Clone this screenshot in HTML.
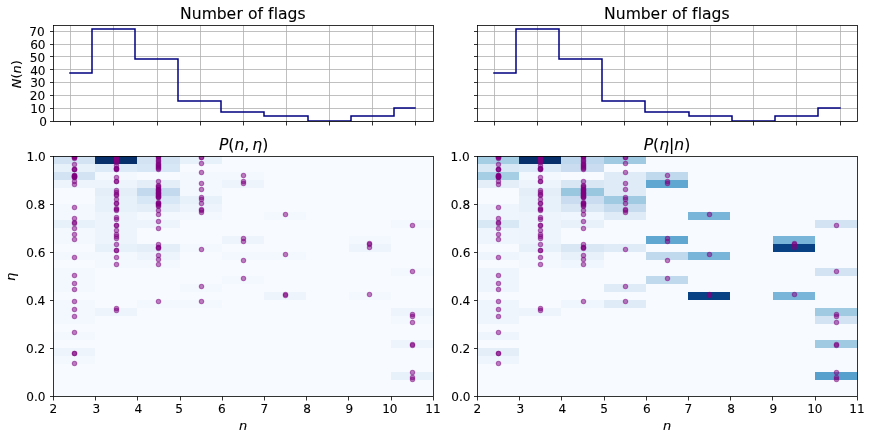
<!DOCTYPE html>
<html lang="en"><head><meta charset="utf-8"><title>Number of flags</title>
<style>html,body{margin:0;padding:0;background:#fff;}svg{display:block;will-change:transform;}</style>
</head><body>
<svg width="872" height="440" viewBox="0 0 872 440" font-family='"DejaVu Sans", "Liberation Sans", sans-serif' fill="#000">
<rect width="872" height="440" fill="#fff"/>
<defs>
<clipPath id="cb0"><rect x="53" y="156" width="380" height="240"/></clipPath>
<clipPath id="ct0"><rect x="53" y="25" width="380" height="96"/></clipPath>
<clipPath id="cb1"><rect x="477" y="156" width="380" height="240"/></clipPath>
<clipPath id="ct1"><rect x="477" y="25" width="380" height="96"/></clipPath>
</defs>
<g id="top0">
<path d="M70.5 25.5V121.5M113.5 25.5V121.5M157.5 25.5V121.5M200.5 25.5V121.5M243.5 25.5V121.5M286.5 25.5V121.5M329.5 25.5V121.5M372.5 25.5V121.5M415.5 25.5V121.5M53.5 121.5H433.5M53.5 108.5H433.5M53.5 95.5H433.5M53.5 82.5H433.5M53.5 69.5H433.5M53.5 56.5H433.5M53.5 44.5H433.5M53.5 31.5H433.5" stroke="#b0b0b0" stroke-width="0.8" fill="none"/>
<path d="M70 73H92V29H135V59H178V101H221V112H264V116H308V121H351V116H394V108H415" stroke="#000080" stroke-width="1.5" fill="none" stroke-linejoin="miter" stroke-linecap="square" clip-path="url(#ct0)"/>
<path d="M70.5 121.5V125.5M113.5 121.5V125.5M157.5 121.5V125.5M200.5 121.5V125.5M243.5 121.5V125.5M286.5 121.5V125.5M329.5 121.5V125.5M372.5 121.5V125.5M415.5 121.5V125.5M53.5 121.5H50M53.5 108.5H50M53.5 95.5H50M53.5 82.5H50M53.5 69.5H50M53.5 56.5H50M53.5 44.5H50M53.5 31.5H50" stroke="#000" stroke-width="0.8" fill="none"/>
<rect x="53.5" y="25.5" width="380" height="96" fill="none" stroke="#000" stroke-width="0.8"/>
<text x="179.91 191.72 201.65 216.76 226.62 236.38 242.95 247.91 257.55 263.04 268 273.72 277.95 287.46 297.4" y="19" font-size="15.6" stroke="#000" stroke-width="0.1">Number of flags</text>
<text x="46.94" y="126" font-size="12.1" text-anchor="end" stroke="#000" stroke-width="0.1">0</text>
<text x="45.6" y="113" font-size="12.1" text-anchor="end" stroke="#000" stroke-width="0.1">10</text>
<text x="45.21" y="100" font-size="12.1" text-anchor="end" stroke="#000" stroke-width="0.1">20</text>
<text x="45.56" y="87" font-size="12.1" text-anchor="end" stroke="#000" stroke-width="0.1">30</text>
<text x="45.54" y="75" font-size="12.1" text-anchor="end" stroke="#000" stroke-width="0.1">40</text>
<text x="45.09" y="62" font-size="12.1" text-anchor="end" stroke="#000" stroke-width="0.1">50</text>
<text x="45.57" y="49" font-size="12.1" text-anchor="end" stroke="#000" stroke-width="0.1">60</text>
<text x="44.62" y="36" font-size="12.1" text-anchor="end" stroke="#000" stroke-width="0.1">70</text>
<text transform="translate(21 74.16) rotate(-90)" font-size="13" text-anchor="middle" stroke="#000" stroke-width="0.1"><tspan font-style="italic">N</tspan>(<tspan font-style="italic">n</tspan>)</text>
</g>
<g id="bot0">
<rect x="53" y="156" width="381" height="241" fill="#f7fbff"/>
<g shape-rendering="crispEdges">
<rect x="53" y="156" width="42" height="8" fill="#d3e3f3"/>
<rect x="53" y="164" width="42" height="8" fill="#e7f1fa"/>
<rect x="53" y="172" width="42" height="8" fill="#d3e3f3"/>
<rect x="53" y="180" width="42" height="8" fill="#edf4fc"/>
<rect x="53" y="204" width="42" height="8" fill="#f2f8fd"/>
<rect x="53" y="212" width="42" height="8" fill="#f2f8fd"/>
<rect x="53" y="220" width="42" height="8" fill="#e7f1fa"/>
<rect x="53" y="228" width="42" height="8" fill="#f2f8fd"/>
<rect x="53" y="236" width="42" height="8" fill="#f2f8fd"/>
<rect x="53" y="252" width="42" height="8" fill="#f2f8fd"/>
<rect x="53" y="268" width="42" height="8" fill="#f2f8fd"/>
<rect x="53" y="276" width="42" height="8" fill="#f2f8fd"/>
<rect x="53" y="284" width="42" height="8" fill="#f2f8fd"/>
<rect x="53" y="300" width="42" height="8" fill="#f2f8fd"/>
<rect x="53" y="308" width="42" height="8" fill="#f2f8fd"/>
<rect x="53" y="316" width="42" height="8" fill="#f2f8fd"/>
<rect x="53" y="332" width="42" height="8" fill="#f2f8fd"/>
<rect x="53" y="348" width="42" height="8" fill="#edf4fc"/>
<rect x="53" y="356" width="42" height="8" fill="#f2f8fd"/>
<rect x="95" y="156" width="42" height="8" fill="#08306b"/>
<rect x="95" y="164" width="42" height="8" fill="#ddeaf7"/>
<rect x="95" y="172" width="42" height="8" fill="#f2f8fd"/>
<rect x="95" y="180" width="42" height="8" fill="#edf4fc"/>
<rect x="95" y="188" width="42" height="8" fill="#e3eef8"/>
<rect x="95" y="196" width="42" height="8" fill="#e7f1fa"/>
<rect x="95" y="204" width="42" height="8" fill="#e7f1fa"/>
<rect x="95" y="212" width="42" height="8" fill="#edf4fc"/>
<rect x="95" y="220" width="42" height="8" fill="#edf4fc"/>
<rect x="95" y="228" width="42" height="8" fill="#edf4fc"/>
<rect x="95" y="236" width="42" height="8" fill="#edf4fc"/>
<rect x="95" y="244" width="42" height="8" fill="#e7f1fa"/>
<rect x="95" y="252" width="42" height="8" fill="#f2f8fd"/>
<rect x="95" y="260" width="42" height="8" fill="#f2f8fd"/>
<rect x="95" y="308" width="42" height="8" fill="#edf4fc"/>
<rect x="137" y="156" width="43" height="8" fill="#d3e3f3"/>
<rect x="137" y="164" width="43" height="8" fill="#d8e7f5"/>
<rect x="137" y="180" width="43" height="8" fill="#e3eef8"/>
<rect x="137" y="188" width="43" height="8" fill="#c2d9ee"/>
<rect x="137" y="196" width="43" height="8" fill="#d8e7f5"/>
<rect x="137" y="204" width="43" height="8" fill="#e3eef8"/>
<rect x="137" y="212" width="43" height="8" fill="#f2f8fd"/>
<rect x="137" y="220" width="43" height="8" fill="#edf4fc"/>
<rect x="137" y="244" width="43" height="8" fill="#e3eef8"/>
<rect x="137" y="252" width="43" height="8" fill="#edf4fc"/>
<rect x="137" y="260" width="43" height="8" fill="#f2f8fd"/>
<rect x="137" y="300" width="43" height="8" fill="#f2f8fd"/>
<rect x="180" y="156" width="42" height="8" fill="#e7f1fa"/>
<rect x="180" y="172" width="42" height="8" fill="#f2f8fd"/>
<rect x="180" y="180" width="42" height="8" fill="#f2f8fd"/>
<rect x="180" y="188" width="42" height="8" fill="#f2f8fd"/>
<rect x="180" y="196" width="42" height="8" fill="#e7f1fa"/>
<rect x="180" y="204" width="42" height="8" fill="#edf4fc"/>
<rect x="180" y="212" width="42" height="8" fill="#f2f8fd"/>
<rect x="180" y="244" width="42" height="8" fill="#f2f8fd"/>
<rect x="180" y="284" width="42" height="8" fill="#f2f8fd"/>
<rect x="180" y="300" width="42" height="8" fill="#f2f8fd"/>
<rect x="222" y="172" width="42" height="8" fill="#f2f8fd"/>
<rect x="222" y="180" width="42" height="8" fill="#edf4fc"/>
<rect x="222" y="236" width="42" height="8" fill="#edf4fc"/>
<rect x="222" y="252" width="42" height="8" fill="#f2f8fd"/>
<rect x="222" y="276" width="42" height="8" fill="#f2f8fd"/>
<rect x="264" y="212" width="42" height="8" fill="#f2f8fd"/>
<rect x="264" y="252" width="42" height="8" fill="#f2f8fd"/>
<rect x="264" y="292" width="42" height="8" fill="#edf4fc"/>
<rect x="349" y="236" width="42" height="8" fill="#f2f8fd"/>
<rect x="349" y="244" width="42" height="8" fill="#edf4fc"/>
<rect x="349" y="292" width="42" height="8" fill="#f2f8fd"/>
<rect x="391" y="220" width="42" height="8" fill="#f2f8fd"/>
<rect x="391" y="268" width="42" height="8" fill="#f2f8fd"/>
<rect x="391" y="308" width="42" height="8" fill="#edf4fc"/>
<rect x="391" y="316" width="42" height="8" fill="#f2f8fd"/>
<rect x="391" y="340" width="42" height="8" fill="#edf4fc"/>
<rect x="391" y="372" width="42" height="8" fill="#e7f1fa"/>
</g>
<g clip-path="url(#cb0)" fill="#800080" fill-opacity="0.5" stroke="#800080" stroke-opacity="0.5" stroke-width="1.1">
<circle cx="74.5" cy="156.5" r="2.2"/>
<circle cx="74.5" cy="156.5" r="2.2"/>
<circle cx="74.5" cy="156.5" r="2.2"/>
<circle cx="74.5" cy="157.5" r="2.2"/>
<circle cx="74.5" cy="157.5" r="2.2"/>
<circle cx="74.5" cy="158.5" r="2.2"/>
<circle cx="74.5" cy="164.5" r="2.2"/>
<circle cx="74.5" cy="169.5" r="2.2"/>
<circle cx="74.5" cy="169.5" r="2.2"/>
<circle cx="74.5" cy="169.5" r="2.2"/>
<circle cx="74.5" cy="175.5" r="2.2"/>
<circle cx="74.5" cy="175.5" r="2.2"/>
<circle cx="74.5" cy="176.5" r="2.2"/>
<circle cx="74.5" cy="176.5" r="2.2"/>
<circle cx="74.5" cy="176.5" r="2.2"/>
<circle cx="74.5" cy="177.5" r="2.2"/>
<circle cx="74.5" cy="177.5" r="2.2"/>
<circle cx="74.5" cy="181.5" r="2.2"/>
<circle cx="74.5" cy="184.5" r="2.2"/>
<circle cx="74.5" cy="207.5" r="2.2"/>
<circle cx="74.5" cy="218.5" r="2.2"/>
<circle cx="74.5" cy="222.5" r="2.2"/>
<circle cx="74.5" cy="223.5" r="2.2"/>
<circle cx="74.5" cy="228.5" r="2.2"/>
<circle cx="74.5" cy="234.5" r="2.2"/>
<circle cx="74.5" cy="239.5" r="2.2"/>
<circle cx="74.5" cy="257.5" r="2.2"/>
<circle cx="74.5" cy="275.5" r="2.2"/>
<circle cx="74.5" cy="283.5" r="2.2"/>
<circle cx="74.5" cy="289.5" r="2.2"/>
<circle cx="74.5" cy="301.5" r="2.2"/>
<circle cx="74.5" cy="309.5" r="2.2"/>
<circle cx="74.5" cy="316.5" r="2.2"/>
<circle cx="74.5" cy="332.5" r="2.2"/>
<circle cx="74.5" cy="353.5" r="2.2"/>
<circle cx="74.5" cy="353.5" r="2.2"/>
<circle cx="74.5" cy="363.5" r="2.2"/>
<circle cx="116.5" cy="156.5" r="2.2"/>
<circle cx="116.5" cy="156.5" r="2.2"/>
<circle cx="116.5" cy="156.5" r="2.2"/>
<circle cx="116.5" cy="156.5" r="2.2"/>
<circle cx="116.5" cy="156.5" r="2.2"/>
<circle cx="116.5" cy="156.5" r="2.2"/>
<circle cx="116.5" cy="156.5" r="2.2"/>
<circle cx="116.5" cy="156.5" r="2.2"/>
<circle cx="116.5" cy="156.5" r="2.2"/>
<circle cx="116.5" cy="156.5" r="2.2"/>
<circle cx="116.5" cy="156.5" r="2.2"/>
<circle cx="116.5" cy="156.5" r="2.2"/>
<circle cx="116.5" cy="156.5" r="2.2"/>
<circle cx="116.5" cy="156.5" r="2.2"/>
<circle cx="116.5" cy="156.5" r="2.2"/>
<circle cx="116.5" cy="156.5" r="2.2"/>
<circle cx="116.5" cy="156.5" r="2.2"/>
<circle cx="116.5" cy="156.5" r="2.2"/>
<circle cx="116.5" cy="156.5" r="2.2"/>
<circle cx="116.5" cy="156.5" r="2.2"/>
<circle cx="116.5" cy="156.5" r="2.2"/>
<circle cx="116.5" cy="156.5" r="2.2"/>
<circle cx="116.5" cy="157.5" r="2.2"/>
<circle cx="116.5" cy="157.5" r="2.2"/>
<circle cx="116.5" cy="157.5" r="2.2"/>
<circle cx="116.5" cy="157.5" r="2.2"/>
<circle cx="116.5" cy="157.5" r="2.2"/>
<circle cx="116.5" cy="158.5" r="2.2"/>
<circle cx="116.5" cy="158.5" r="2.2"/>
<circle cx="116.5" cy="158.5" r="2.2"/>
<circle cx="116.5" cy="158.5" r="2.2"/>
<circle cx="116.5" cy="159.5" r="2.2"/>
<circle cx="116.5" cy="159.5" r="2.2"/>
<circle cx="116.5" cy="159.5" r="2.2"/>
<circle cx="116.5" cy="160.5" r="2.2"/>
<circle cx="116.5" cy="160.5" r="2.2"/>
<circle cx="116.5" cy="161.5" r="2.2"/>
<circle cx="116.5" cy="162.5" r="2.2"/>
<circle cx="116.5" cy="165.5" r="2.2"/>
<circle cx="116.5" cy="168.5" r="2.2"/>
<circle cx="116.5" cy="168.5" r="2.2"/>
<circle cx="116.5" cy="169.5" r="2.2"/>
<circle cx="116.5" cy="169.5" r="2.2"/>
<circle cx="116.5" cy="177.5" r="2.2"/>
<circle cx="116.5" cy="181.5" r="2.2"/>
<circle cx="116.5" cy="181.5" r="2.2"/>
<circle cx="116.5" cy="190.5" r="2.2"/>
<circle cx="116.5" cy="192.5" r="2.2"/>
<circle cx="116.5" cy="194.5" r="2.2"/>
<circle cx="116.5" cy="195.5" r="2.2"/>
<circle cx="116.5" cy="199.5" r="2.2"/>
<circle cx="116.5" cy="203.5" r="2.2"/>
<circle cx="116.5" cy="203.5" r="2.2"/>
<circle cx="116.5" cy="208.5" r="2.2"/>
<circle cx="116.5" cy="209.5" r="2.2"/>
<circle cx="116.5" cy="210.5" r="2.2"/>
<circle cx="116.5" cy="217.5" r="2.2"/>
<circle cx="116.5" cy="219.5" r="2.2"/>
<circle cx="116.5" cy="225.5" r="2.2"/>
<circle cx="116.5" cy="225.5" r="2.2"/>
<circle cx="116.5" cy="230.5" r="2.2"/>
<circle cx="116.5" cy="234.5" r="2.2"/>
<circle cx="116.5" cy="236.5" r="2.2"/>
<circle cx="116.5" cy="238.5" r="2.2"/>
<circle cx="116.5" cy="244.5" r="2.2"/>
<circle cx="116.5" cy="250.5" r="2.2"/>
<circle cx="116.5" cy="250.5" r="2.2"/>
<circle cx="116.5" cy="257.5" r="2.2"/>
<circle cx="116.5" cy="264.5" r="2.2"/>
<circle cx="116.5" cy="308.5" r="2.2"/>
<circle cx="116.5" cy="310.5" r="2.2"/>
<circle cx="158.5" cy="156.5" r="2.2"/>
<circle cx="158.5" cy="156.5" r="2.2"/>
<circle cx="158.5" cy="156.5" r="2.2"/>
<circle cx="158.5" cy="158.5" r="2.2"/>
<circle cx="158.5" cy="160.5" r="2.2"/>
<circle cx="158.5" cy="161.5" r="2.2"/>
<circle cx="158.5" cy="163.5" r="2.2"/>
<circle cx="158.5" cy="164.5" r="2.2"/>
<circle cx="158.5" cy="165.5" r="2.2"/>
<circle cx="158.5" cy="166.5" r="2.2"/>
<circle cx="158.5" cy="167.5" r="2.2"/>
<circle cx="158.5" cy="168.5" r="2.2"/>
<circle cx="158.5" cy="169.5" r="2.2"/>
<circle cx="158.5" cy="181.5" r="2.2"/>
<circle cx="158.5" cy="185.5" r="2.2"/>
<circle cx="158.5" cy="186.5" r="2.2"/>
<circle cx="158.5" cy="187.5" r="2.2"/>
<circle cx="158.5" cy="189.5" r="2.2"/>
<circle cx="158.5" cy="189.5" r="2.2"/>
<circle cx="158.5" cy="190.5" r="2.2"/>
<circle cx="158.5" cy="191.5" r="2.2"/>
<circle cx="158.5" cy="192.5" r="2.2"/>
<circle cx="158.5" cy="193.5" r="2.2"/>
<circle cx="158.5" cy="193.5" r="2.2"/>
<circle cx="158.5" cy="194.5" r="2.2"/>
<circle cx="158.5" cy="195.5" r="2.2"/>
<circle cx="158.5" cy="196.5" r="2.2"/>
<circle cx="158.5" cy="196.5" r="2.2"/>
<circle cx="158.5" cy="197.5" r="2.2"/>
<circle cx="158.5" cy="197.5" r="2.2"/>
<circle cx="158.5" cy="202.5" r="2.2"/>
<circle cx="158.5" cy="203.5" r="2.2"/>
<circle cx="158.5" cy="203.5" r="2.2"/>
<circle cx="158.5" cy="204.5" r="2.2"/>
<circle cx="158.5" cy="205.5" r="2.2"/>
<circle cx="158.5" cy="206.5" r="2.2"/>
<circle cx="158.5" cy="210.5" r="2.2"/>
<circle cx="158.5" cy="214.5" r="2.2"/>
<circle cx="158.5" cy="221.5" r="2.2"/>
<circle cx="158.5" cy="228.5" r="2.2"/>
<circle cx="158.5" cy="244.5" r="2.2"/>
<circle cx="158.5" cy="247.5" r="2.2"/>
<circle cx="158.5" cy="247.5" r="2.2"/>
<circle cx="158.5" cy="248.5" r="2.2"/>
<circle cx="158.5" cy="255.5" r="2.2"/>
<circle cx="158.5" cy="259.5" r="2.2"/>
<circle cx="158.5" cy="264.5" r="2.2"/>
<circle cx="158.5" cy="301.5" r="2.2"/>
<circle cx="201.5" cy="157.5" r="2.2"/>
<circle cx="201.5" cy="157.5" r="2.2"/>
<circle cx="201.5" cy="163.5" r="2.2"/>
<circle cx="201.5" cy="172.5" r="2.2"/>
<circle cx="201.5" cy="183.5" r="2.2"/>
<circle cx="201.5" cy="189.5" r="2.2"/>
<circle cx="201.5" cy="197.5" r="2.2"/>
<circle cx="201.5" cy="199.5" r="2.2"/>
<circle cx="201.5" cy="203.5" r="2.2"/>
<circle cx="201.5" cy="209.5" r="2.2"/>
<circle cx="201.5" cy="210.5" r="2.2"/>
<circle cx="201.5" cy="212.5" r="2.2"/>
<circle cx="201.5" cy="249.5" r="2.2"/>
<circle cx="201.5" cy="286.5" r="2.2"/>
<circle cx="201.5" cy="301.5" r="2.2"/>
<circle cx="243.5" cy="175.5" r="2.2"/>
<circle cx="243.5" cy="181.5" r="2.2"/>
<circle cx="243.5" cy="183.5" r="2.2"/>
<circle cx="243.5" cy="238.5" r="2.2"/>
<circle cx="243.5" cy="241.5" r="2.2"/>
<circle cx="243.5" cy="260.5" r="2.2"/>
<circle cx="243.5" cy="278.5" r="2.2"/>
<circle cx="285.5" cy="214.5" r="2.2"/>
<circle cx="285.5" cy="254.5" r="2.2"/>
<circle cx="285.5" cy="294.5" r="2.2"/>
<circle cx="285.5" cy="295.5" r="2.2"/>
<circle cx="369.5" cy="243.5" r="2.2"/>
<circle cx="369.5" cy="244.5" r="2.2"/>
<circle cx="369.5" cy="247.5" r="2.2"/>
<circle cx="369.5" cy="294.5" r="2.2"/>
<circle cx="412.5" cy="225.5" r="2.2"/>
<circle cx="412.5" cy="271.5" r="2.2"/>
<circle cx="412.5" cy="314.5" r="2.2"/>
<circle cx="412.5" cy="316.5" r="2.2"/>
<circle cx="412.5" cy="322.5" r="2.2"/>
<circle cx="412.5" cy="344.5" r="2.2"/>
<circle cx="412.5" cy="345.5" r="2.2"/>
<circle cx="412.5" cy="372.5" r="2.2"/>
<circle cx="412.5" cy="377.5" r="2.2"/>
<circle cx="412.5" cy="379.5" r="2.2"/>
</g>
<path d="M53.5 396.5V400.5M95.5 396.5V400.5M137.5 396.5V400.5M180.5 396.5V400.5M222.5 396.5V400.5M264.5 396.5V400.5M306.5 396.5V400.5M348.5 396.5V400.5M391.5 396.5V400.5M433.5 396.5V400.5M53.5 396.5H50M53.5 348.5H50M53.5 300.5H50M53.5 252.5H50M53.5 204.5H50M53.5 156.5H50" stroke="#000" stroke-width="0.8" fill="none"/>
<rect x="53.5" y="156.5" width="380" height="240" fill="none" stroke="#000" stroke-width="0.8"/>
<text x="53.29" y="413" font-size="12.1" text-anchor="middle" stroke="#000" stroke-width="0.1">2</text>
<text x="96.23" y="413" font-size="12.1" text-anchor="middle" stroke="#000" stroke-width="0.1">3</text>
<text x="138.25" y="413" font-size="12.1" text-anchor="middle" stroke="#000" stroke-width="0.1">4</text>
<text x="179.06" y="413" font-size="12.1" text-anchor="middle" stroke="#000" stroke-width="0.1">5</text>
<text x="221.95" y="413" font-size="12.1" text-anchor="middle" stroke="#000" stroke-width="0.1">6</text>
<text x="264.38" y="413" font-size="12.1" text-anchor="middle" stroke="#000" stroke-width="0.1">7</text>
<text x="307.1" y="413" font-size="12.1" text-anchor="middle" stroke="#000" stroke-width="0.1">8</text>
<text x="349.28" y="413" font-size="12.1" text-anchor="middle" stroke="#000" stroke-width="0.1">9</text>
<text x="389.85" y="413" font-size="12.1" text-anchor="middle" stroke="#000" stroke-width="0.1">10</text>
<text x="432.91" y="413" font-size="12.1" text-anchor="middle" stroke="#000" stroke-width="0.1">11</text>
<text x="45.48" y="401" font-size="12.1" text-anchor="end" stroke="#000" stroke-width="0.1">0.0</text>
<text x="45.19" y="353" font-size="12.1" text-anchor="end" stroke="#000" stroke-width="0.1">0.2</text>
<text x="45.28" y="305" font-size="12.1" text-anchor="end" stroke="#000" stroke-width="0.1">0.4</text>
<text x="45.36" y="257" font-size="12.1" text-anchor="end" stroke="#000" stroke-width="0.1">0.6</text>
<text x="45.1" y="209" font-size="12.1" text-anchor="end" stroke="#000" stroke-width="0.1">0.8</text>
<text x="45.75" y="161" font-size="12.1" text-anchor="end" stroke="#000" stroke-width="0.1">1.0</text>
<text x="243.15" y="430" font-size="13" text-anchor="middle" font-style="italic" stroke="#000" stroke-width="0.1">n</text>
<text transform="translate(15 276.84) rotate(-90)" font-size="13" text-anchor="middle" font-style="italic" stroke="#000" stroke-width="0.1">η</text>
<text x="243.57" y="150" font-size="15.6" text-anchor="middle" stroke="#000" stroke-width="0.1"><tspan font-style="italic">P</tspan>(<tspan font-style="italic">n</tspan>,<tspan font-style="italic" dx="3">η</tspan>)</text>
</g>
<g id="top1">
<path d="M494.5 25.5V121.5M537.5 25.5V121.5M581.5 25.5V121.5M624.5 25.5V121.5M667.5 25.5V121.5M710.5 25.5V121.5M753.5 25.5V121.5M796.5 25.5V121.5M840.5 25.5V121.5M477.5 121.5H857.5M477.5 108.5H857.5M477.5 95.5H857.5M477.5 82.5H857.5M477.5 69.5H857.5M477.5 56.5H857.5M477.5 44.5H857.5M477.5 31.5H857.5" stroke="#b0b0b0" stroke-width="0.8" fill="none"/>
<path d="M494 73H516V29H559V59H602V101H645V112H689V116H732V121H775V116H818V108H840" stroke="#000080" stroke-width="1.5" fill="none" stroke-linejoin="miter" stroke-linecap="square" clip-path="url(#ct1)"/>
<path d="M494.5 121.5V125.5M537.5 121.5V125.5M581.5 121.5V125.5M624.5 121.5V125.5M667.5 121.5V125.5M710.5 121.5V125.5M753.5 121.5V125.5M796.5 121.5V125.5M840.5 121.5V125.5M477.5 121.5H474M477.5 108.5H474M477.5 95.5H474M477.5 82.5H474M477.5 69.5H474M477.5 56.5H474M477.5 44.5H474M477.5 31.5H474" stroke="#000" stroke-width="0.8" fill="none"/>
<rect x="477.5" y="25.5" width="380" height="96" fill="none" stroke="#000" stroke-width="0.8"/>
<text x="603.91 615.72 625.65 640.76 650.62 660.38 666.95 671.91 681.55 687.04 692 697.72 701.95 711.46 721.4" y="19" font-size="15.6" stroke="#000" stroke-width="0.1">Number of flags</text>
</g>
<g id="bot1">
<rect x="477" y="156" width="381" height="241" fill="#f7fbff"/>
<g shape-rendering="crispEdges">
<rect x="477" y="156" width="42" height="8" fill="#a5cde3"/>
<rect x="477" y="164" width="42" height="8" fill="#d9e8f5"/>
<rect x="477" y="172" width="42" height="8" fill="#a5cde3"/>
<rect x="477" y="180" width="42" height="8" fill="#e3eef9"/>
<rect x="477" y="204" width="42" height="8" fill="#eef5fc"/>
<rect x="477" y="212" width="42" height="8" fill="#eef5fc"/>
<rect x="477" y="220" width="42" height="8" fill="#d9e8f5"/>
<rect x="477" y="228" width="42" height="8" fill="#eef5fc"/>
<rect x="477" y="236" width="42" height="8" fill="#eef5fc"/>
<rect x="477" y="252" width="42" height="8" fill="#eef5fc"/>
<rect x="477" y="268" width="42" height="8" fill="#eef5fc"/>
<rect x="477" y="276" width="42" height="8" fill="#eef5fc"/>
<rect x="477" y="284" width="42" height="8" fill="#eef5fc"/>
<rect x="477" y="300" width="42" height="8" fill="#eef5fc"/>
<rect x="477" y="308" width="42" height="8" fill="#eef5fc"/>
<rect x="477" y="316" width="42" height="8" fill="#eef5fc"/>
<rect x="477" y="332" width="42" height="8" fill="#eef5fc"/>
<rect x="477" y="348" width="42" height="8" fill="#e3eef9"/>
<rect x="477" y="356" width="42" height="8" fill="#eef5fc"/>
<rect x="519" y="156" width="42" height="8" fill="#08306b"/>
<rect x="519" y="164" width="42" height="8" fill="#ddeaf7"/>
<rect x="519" y="172" width="42" height="8" fill="#f2f8fd"/>
<rect x="519" y="180" width="42" height="8" fill="#edf4fc"/>
<rect x="519" y="188" width="42" height="8" fill="#e3eef8"/>
<rect x="519" y="196" width="42" height="8" fill="#e7f1fa"/>
<rect x="519" y="204" width="42" height="8" fill="#e7f1fa"/>
<rect x="519" y="212" width="42" height="8" fill="#edf4fc"/>
<rect x="519" y="220" width="42" height="8" fill="#edf4fc"/>
<rect x="519" y="228" width="42" height="8" fill="#edf4fc"/>
<rect x="519" y="236" width="42" height="8" fill="#edf4fc"/>
<rect x="519" y="244" width="42" height="8" fill="#e7f1fa"/>
<rect x="519" y="252" width="42" height="8" fill="#f2f8fd"/>
<rect x="519" y="260" width="42" height="8" fill="#f2f8fd"/>
<rect x="519" y="308" width="42" height="8" fill="#edf4fc"/>
<rect x="561" y="156" width="43" height="8" fill="#bfd8ed"/>
<rect x="561" y="164" width="43" height="8" fill="#caddf0"/>
<rect x="561" y="180" width="43" height="8" fill="#d9e7f5"/>
<rect x="561" y="188" width="43" height="8" fill="#99c7e0"/>
<rect x="561" y="196" width="43" height="8" fill="#caddf0"/>
<rect x="561" y="204" width="43" height="8" fill="#d9e7f5"/>
<rect x="561" y="212" width="43" height="8" fill="#f0f6fd"/>
<rect x="561" y="220" width="43" height="8" fill="#e8f1fa"/>
<rect x="561" y="244" width="43" height="8" fill="#d9e7f5"/>
<rect x="561" y="252" width="43" height="8" fill="#e8f1fa"/>
<rect x="561" y="260" width="43" height="8" fill="#f0f6fd"/>
<rect x="561" y="300" width="43" height="8" fill="#f0f6fd"/>
<rect x="604" y="156" width="42" height="8" fill="#9fcae1"/>
<rect x="604" y="172" width="42" height="8" fill="#dfebf7"/>
<rect x="604" y="180" width="42" height="8" fill="#dfebf7"/>
<rect x="604" y="188" width="42" height="8" fill="#dfebf7"/>
<rect x="604" y="196" width="42" height="8" fill="#9fcae1"/>
<rect x="604" y="204" width="42" height="8" fill="#c7dbef"/>
<rect x="604" y="212" width="42" height="8" fill="#dfebf7"/>
<rect x="604" y="244" width="42" height="8" fill="#dfebf7"/>
<rect x="604" y="284" width="42" height="8" fill="#dfebf7"/>
<rect x="604" y="300" width="42" height="8" fill="#dfebf7"/>
<rect x="646" y="172" width="42" height="8" fill="#c1d9ed"/>
<rect x="646" y="180" width="42" height="8" fill="#60a7d2"/>
<rect x="646" y="236" width="42" height="8" fill="#60a7d2"/>
<rect x="646" y="252" width="42" height="8" fill="#c1d9ed"/>
<rect x="646" y="276" width="42" height="8" fill="#c1d9ed"/>
<rect x="688" y="212" width="42" height="8" fill="#79b5d9"/>
<rect x="688" y="252" width="42" height="8" fill="#79b5d9"/>
<rect x="688" y="292" width="42" height="8" fill="#084184"/>
<rect x="773" y="236" width="42" height="8" fill="#79b5d9"/>
<rect x="773" y="244" width="42" height="8" fill="#084184"/>
<rect x="773" y="292" width="42" height="8" fill="#79b5d9"/>
<rect x="815" y="220" width="42" height="8" fill="#d3e3f3"/>
<rect x="815" y="268" width="42" height="8" fill="#d3e3f3"/>
<rect x="815" y="308" width="42" height="8" fill="#9fcae1"/>
<rect x="815" y="316" width="42" height="8" fill="#d3e3f3"/>
<rect x="815" y="340" width="42" height="8" fill="#9fcae1"/>
<rect x="815" y="372" width="42" height="8" fill="#57a0ce"/>
</g>
<g clip-path="url(#cb1)" fill="#800080" fill-opacity="0.5" stroke="#800080" stroke-opacity="0.5" stroke-width="1.1">
<circle cx="498.5" cy="156.5" r="2.2"/>
<circle cx="498.5" cy="156.5" r="2.2"/>
<circle cx="498.5" cy="156.5" r="2.2"/>
<circle cx="498.5" cy="157.5" r="2.2"/>
<circle cx="498.5" cy="157.5" r="2.2"/>
<circle cx="498.5" cy="158.5" r="2.2"/>
<circle cx="498.5" cy="164.5" r="2.2"/>
<circle cx="498.5" cy="169.5" r="2.2"/>
<circle cx="498.5" cy="169.5" r="2.2"/>
<circle cx="498.5" cy="169.5" r="2.2"/>
<circle cx="498.5" cy="175.5" r="2.2"/>
<circle cx="498.5" cy="175.5" r="2.2"/>
<circle cx="498.5" cy="176.5" r="2.2"/>
<circle cx="498.5" cy="176.5" r="2.2"/>
<circle cx="498.5" cy="176.5" r="2.2"/>
<circle cx="498.5" cy="177.5" r="2.2"/>
<circle cx="498.5" cy="177.5" r="2.2"/>
<circle cx="498.5" cy="181.5" r="2.2"/>
<circle cx="498.5" cy="184.5" r="2.2"/>
<circle cx="498.5" cy="207.5" r="2.2"/>
<circle cx="498.5" cy="218.5" r="2.2"/>
<circle cx="498.5" cy="222.5" r="2.2"/>
<circle cx="498.5" cy="223.5" r="2.2"/>
<circle cx="498.5" cy="228.5" r="2.2"/>
<circle cx="498.5" cy="234.5" r="2.2"/>
<circle cx="498.5" cy="239.5" r="2.2"/>
<circle cx="498.5" cy="257.5" r="2.2"/>
<circle cx="498.5" cy="275.5" r="2.2"/>
<circle cx="498.5" cy="283.5" r="2.2"/>
<circle cx="498.5" cy="289.5" r="2.2"/>
<circle cx="498.5" cy="301.5" r="2.2"/>
<circle cx="498.5" cy="309.5" r="2.2"/>
<circle cx="498.5" cy="316.5" r="2.2"/>
<circle cx="498.5" cy="332.5" r="2.2"/>
<circle cx="498.5" cy="353.5" r="2.2"/>
<circle cx="498.5" cy="353.5" r="2.2"/>
<circle cx="498.5" cy="363.5" r="2.2"/>
<circle cx="540.5" cy="156.5" r="2.2"/>
<circle cx="540.5" cy="156.5" r="2.2"/>
<circle cx="540.5" cy="156.5" r="2.2"/>
<circle cx="540.5" cy="156.5" r="2.2"/>
<circle cx="540.5" cy="156.5" r="2.2"/>
<circle cx="540.5" cy="156.5" r="2.2"/>
<circle cx="540.5" cy="156.5" r="2.2"/>
<circle cx="540.5" cy="156.5" r="2.2"/>
<circle cx="540.5" cy="156.5" r="2.2"/>
<circle cx="540.5" cy="156.5" r="2.2"/>
<circle cx="540.5" cy="156.5" r="2.2"/>
<circle cx="540.5" cy="156.5" r="2.2"/>
<circle cx="540.5" cy="156.5" r="2.2"/>
<circle cx="540.5" cy="156.5" r="2.2"/>
<circle cx="540.5" cy="156.5" r="2.2"/>
<circle cx="540.5" cy="156.5" r="2.2"/>
<circle cx="540.5" cy="156.5" r="2.2"/>
<circle cx="540.5" cy="156.5" r="2.2"/>
<circle cx="540.5" cy="156.5" r="2.2"/>
<circle cx="540.5" cy="156.5" r="2.2"/>
<circle cx="540.5" cy="156.5" r="2.2"/>
<circle cx="540.5" cy="156.5" r="2.2"/>
<circle cx="540.5" cy="157.5" r="2.2"/>
<circle cx="540.5" cy="157.5" r="2.2"/>
<circle cx="540.5" cy="157.5" r="2.2"/>
<circle cx="540.5" cy="157.5" r="2.2"/>
<circle cx="540.5" cy="157.5" r="2.2"/>
<circle cx="540.5" cy="158.5" r="2.2"/>
<circle cx="540.5" cy="158.5" r="2.2"/>
<circle cx="540.5" cy="158.5" r="2.2"/>
<circle cx="540.5" cy="158.5" r="2.2"/>
<circle cx="540.5" cy="159.5" r="2.2"/>
<circle cx="540.5" cy="159.5" r="2.2"/>
<circle cx="540.5" cy="159.5" r="2.2"/>
<circle cx="540.5" cy="160.5" r="2.2"/>
<circle cx="540.5" cy="160.5" r="2.2"/>
<circle cx="540.5" cy="161.5" r="2.2"/>
<circle cx="540.5" cy="162.5" r="2.2"/>
<circle cx="540.5" cy="165.5" r="2.2"/>
<circle cx="540.5" cy="168.5" r="2.2"/>
<circle cx="540.5" cy="168.5" r="2.2"/>
<circle cx="540.5" cy="169.5" r="2.2"/>
<circle cx="540.5" cy="169.5" r="2.2"/>
<circle cx="540.5" cy="177.5" r="2.2"/>
<circle cx="540.5" cy="181.5" r="2.2"/>
<circle cx="540.5" cy="181.5" r="2.2"/>
<circle cx="540.5" cy="190.5" r="2.2"/>
<circle cx="540.5" cy="192.5" r="2.2"/>
<circle cx="540.5" cy="194.5" r="2.2"/>
<circle cx="540.5" cy="195.5" r="2.2"/>
<circle cx="540.5" cy="199.5" r="2.2"/>
<circle cx="540.5" cy="203.5" r="2.2"/>
<circle cx="540.5" cy="203.5" r="2.2"/>
<circle cx="540.5" cy="208.5" r="2.2"/>
<circle cx="540.5" cy="209.5" r="2.2"/>
<circle cx="540.5" cy="210.5" r="2.2"/>
<circle cx="540.5" cy="217.5" r="2.2"/>
<circle cx="540.5" cy="219.5" r="2.2"/>
<circle cx="540.5" cy="225.5" r="2.2"/>
<circle cx="540.5" cy="225.5" r="2.2"/>
<circle cx="540.5" cy="230.5" r="2.2"/>
<circle cx="540.5" cy="234.5" r="2.2"/>
<circle cx="540.5" cy="236.5" r="2.2"/>
<circle cx="540.5" cy="238.5" r="2.2"/>
<circle cx="540.5" cy="244.5" r="2.2"/>
<circle cx="540.5" cy="250.5" r="2.2"/>
<circle cx="540.5" cy="250.5" r="2.2"/>
<circle cx="540.5" cy="257.5" r="2.2"/>
<circle cx="540.5" cy="264.5" r="2.2"/>
<circle cx="540.5" cy="308.5" r="2.2"/>
<circle cx="540.5" cy="310.5" r="2.2"/>
<circle cx="583.5" cy="156.5" r="2.2"/>
<circle cx="583.5" cy="156.5" r="2.2"/>
<circle cx="583.5" cy="156.5" r="2.2"/>
<circle cx="583.5" cy="158.5" r="2.2"/>
<circle cx="583.5" cy="160.5" r="2.2"/>
<circle cx="583.5" cy="161.5" r="2.2"/>
<circle cx="583.5" cy="163.5" r="2.2"/>
<circle cx="583.5" cy="164.5" r="2.2"/>
<circle cx="583.5" cy="165.5" r="2.2"/>
<circle cx="583.5" cy="166.5" r="2.2"/>
<circle cx="583.5" cy="167.5" r="2.2"/>
<circle cx="583.5" cy="168.5" r="2.2"/>
<circle cx="583.5" cy="169.5" r="2.2"/>
<circle cx="583.5" cy="181.5" r="2.2"/>
<circle cx="583.5" cy="185.5" r="2.2"/>
<circle cx="583.5" cy="186.5" r="2.2"/>
<circle cx="583.5" cy="187.5" r="2.2"/>
<circle cx="583.5" cy="189.5" r="2.2"/>
<circle cx="583.5" cy="189.5" r="2.2"/>
<circle cx="583.5" cy="190.5" r="2.2"/>
<circle cx="583.5" cy="191.5" r="2.2"/>
<circle cx="583.5" cy="192.5" r="2.2"/>
<circle cx="583.5" cy="193.5" r="2.2"/>
<circle cx="583.5" cy="193.5" r="2.2"/>
<circle cx="583.5" cy="194.5" r="2.2"/>
<circle cx="583.5" cy="195.5" r="2.2"/>
<circle cx="583.5" cy="196.5" r="2.2"/>
<circle cx="583.5" cy="196.5" r="2.2"/>
<circle cx="583.5" cy="197.5" r="2.2"/>
<circle cx="583.5" cy="197.5" r="2.2"/>
<circle cx="583.5" cy="202.5" r="2.2"/>
<circle cx="583.5" cy="203.5" r="2.2"/>
<circle cx="583.5" cy="203.5" r="2.2"/>
<circle cx="583.5" cy="204.5" r="2.2"/>
<circle cx="583.5" cy="205.5" r="2.2"/>
<circle cx="583.5" cy="206.5" r="2.2"/>
<circle cx="583.5" cy="210.5" r="2.2"/>
<circle cx="583.5" cy="214.5" r="2.2"/>
<circle cx="583.5" cy="221.5" r="2.2"/>
<circle cx="583.5" cy="228.5" r="2.2"/>
<circle cx="583.5" cy="244.5" r="2.2"/>
<circle cx="583.5" cy="247.5" r="2.2"/>
<circle cx="583.5" cy="247.5" r="2.2"/>
<circle cx="583.5" cy="248.5" r="2.2"/>
<circle cx="583.5" cy="255.5" r="2.2"/>
<circle cx="583.5" cy="259.5" r="2.2"/>
<circle cx="583.5" cy="264.5" r="2.2"/>
<circle cx="583.5" cy="301.5" r="2.2"/>
<circle cx="625.5" cy="157.5" r="2.2"/>
<circle cx="625.5" cy="157.5" r="2.2"/>
<circle cx="625.5" cy="163.5" r="2.2"/>
<circle cx="625.5" cy="172.5" r="2.2"/>
<circle cx="625.5" cy="183.5" r="2.2"/>
<circle cx="625.5" cy="189.5" r="2.2"/>
<circle cx="625.5" cy="197.5" r="2.2"/>
<circle cx="625.5" cy="199.5" r="2.2"/>
<circle cx="625.5" cy="203.5" r="2.2"/>
<circle cx="625.5" cy="209.5" r="2.2"/>
<circle cx="625.5" cy="210.5" r="2.2"/>
<circle cx="625.5" cy="212.5" r="2.2"/>
<circle cx="625.5" cy="249.5" r="2.2"/>
<circle cx="625.5" cy="286.5" r="2.2"/>
<circle cx="625.5" cy="301.5" r="2.2"/>
<circle cx="667.5" cy="175.5" r="2.2"/>
<circle cx="667.5" cy="181.5" r="2.2"/>
<circle cx="667.5" cy="183.5" r="2.2"/>
<circle cx="667.5" cy="238.5" r="2.2"/>
<circle cx="667.5" cy="241.5" r="2.2"/>
<circle cx="667.5" cy="260.5" r="2.2"/>
<circle cx="667.5" cy="278.5" r="2.2"/>
<circle cx="709.5" cy="214.5" r="2.2"/>
<circle cx="709.5" cy="254.5" r="2.2"/>
<circle cx="709.5" cy="294.5" r="2.2"/>
<circle cx="709.5" cy="295.5" r="2.2"/>
<circle cx="794.5" cy="243.5" r="2.2"/>
<circle cx="794.5" cy="244.5" r="2.2"/>
<circle cx="794.5" cy="247.5" r="2.2"/>
<circle cx="794.5" cy="294.5" r="2.2"/>
<circle cx="836.5" cy="225.5" r="2.2"/>
<circle cx="836.5" cy="271.5" r="2.2"/>
<circle cx="836.5" cy="314.5" r="2.2"/>
<circle cx="836.5" cy="316.5" r="2.2"/>
<circle cx="836.5" cy="322.5" r="2.2"/>
<circle cx="836.5" cy="344.5" r="2.2"/>
<circle cx="836.5" cy="345.5" r="2.2"/>
<circle cx="836.5" cy="372.5" r="2.2"/>
<circle cx="836.5" cy="377.5" r="2.2"/>
<circle cx="836.5" cy="379.5" r="2.2"/>
</g>
<path d="M477.5 396.5V400.5M519.5 396.5V400.5M561.5 396.5V400.5M604.5 396.5V400.5M646.5 396.5V400.5M688.5 396.5V400.5M730.5 396.5V400.5M772.5 396.5V400.5M815.5 396.5V400.5M857.5 396.5V400.5M477.5 396.5H474M477.5 348.5H474M477.5 300.5H474M477.5 252.5H474M477.5 204.5H474M477.5 156.5H474" stroke="#000" stroke-width="0.8" fill="none"/>
<rect x="477.5" y="156.5" width="380" height="240" fill="none" stroke="#000" stroke-width="0.8"/>
<text x="477.29" y="413" font-size="12.1" text-anchor="middle" stroke="#000" stroke-width="0.1">2</text>
<text x="520.23" y="413" font-size="12.1" text-anchor="middle" stroke="#000" stroke-width="0.1">3</text>
<text x="562.25" y="413" font-size="12.1" text-anchor="middle" stroke="#000" stroke-width="0.1">4</text>
<text x="604.06" y="413" font-size="12.1" text-anchor="middle" stroke="#000" stroke-width="0.1">5</text>
<text x="646.95" y="413" font-size="12.1" text-anchor="middle" stroke="#000" stroke-width="0.1">6</text>
<text x="688.38" y="413" font-size="12.1" text-anchor="middle" stroke="#000" stroke-width="0.1">7</text>
<text x="731.1" y="413" font-size="12.1" text-anchor="middle" stroke="#000" stroke-width="0.1">8</text>
<text x="773.28" y="413" font-size="12.1" text-anchor="middle" stroke="#000" stroke-width="0.1">9</text>
<text x="814.85" y="413" font-size="12.1" text-anchor="middle" stroke="#000" stroke-width="0.1">10</text>
<text x="856.91" y="413" font-size="12.1" text-anchor="middle" stroke="#000" stroke-width="0.1">11</text>
<text x="470.48" y="401" font-size="12.1" text-anchor="end" stroke="#000" stroke-width="0.1">0.0</text>
<text x="470.19" y="353" font-size="12.1" text-anchor="end" stroke="#000" stroke-width="0.1">0.2</text>
<text x="470.28" y="305" font-size="12.1" text-anchor="end" stroke="#000" stroke-width="0.1">0.4</text>
<text x="470.36" y="257" font-size="12.1" text-anchor="end" stroke="#000" stroke-width="0.1">0.6</text>
<text x="470.1" y="209" font-size="12.1" text-anchor="end" stroke="#000" stroke-width="0.1">0.8</text>
<text x="469.75" y="161" font-size="12.1" text-anchor="end" stroke="#000" stroke-width="0.1">1.0</text>
<text x="667.15" y="430" font-size="13" text-anchor="middle" font-style="italic" stroke="#000" stroke-width="0.1">n</text>
<text x="666.96" y="150" font-size="15.6" text-anchor="middle" stroke="#000" stroke-width="0.1"><tspan font-style="italic">P</tspan>(<tspan font-style="italic">η</tspan>|<tspan font-style="italic">n</tspan>)</text>
</g>
</svg>
</body></html>
